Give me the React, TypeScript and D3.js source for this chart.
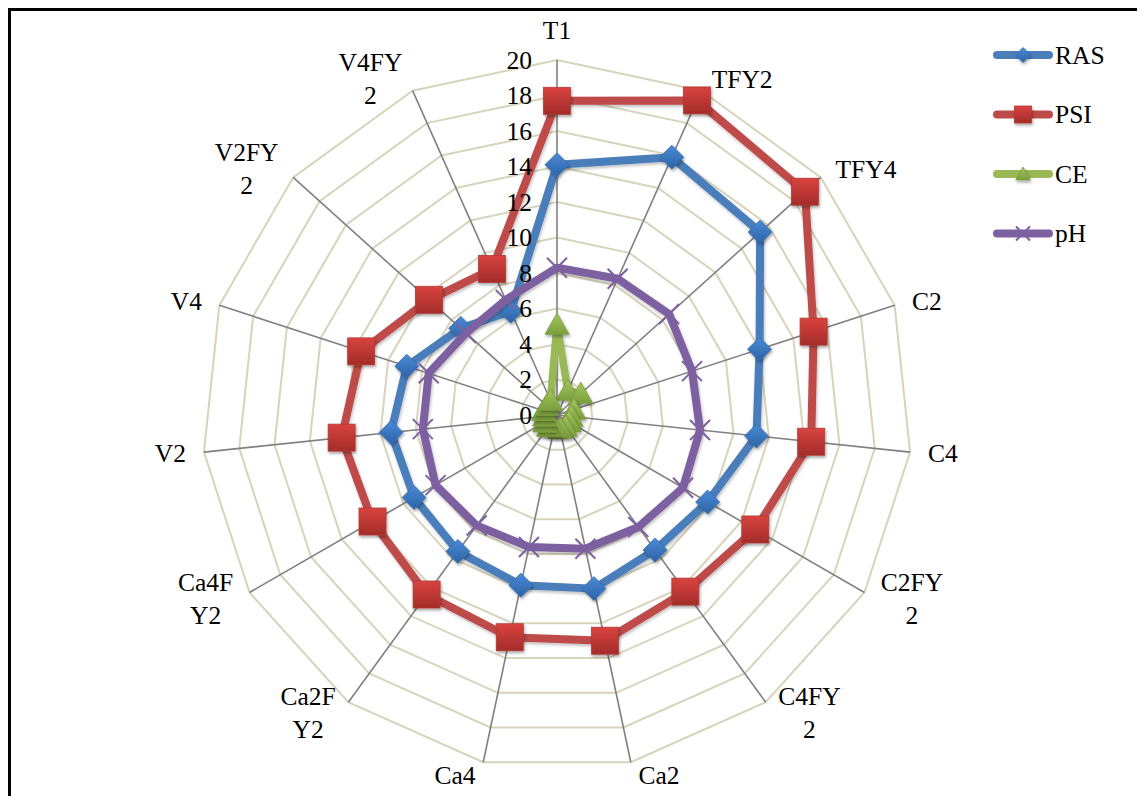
import React from "react";
import * as d3 from "d3";

const categories = ["T1", "TFY2", "TFY4", "C2", "C4", "C2FY2", "C4FY2", "Ca2", "Ca4", "Ca2FY2", "Ca4FY2", "V2", "V4", "V2FY2", "V4FY2"];
const categoryLines = [["T1"], ["TFY2"], ["TFY4"], ["C2"], ["C4"], ["C2FY", "2"], ["C4FY", "2"], ["Ca2"], ["Ca4"], ["Ca2F", "Y2"], ["Ca4F", "Y2"], ["V2"], ["V4"], ["V2FY", "2"], ["V4FY", "2"]];
const rasValues = [14.1, 15.9, 15.4, 12.0, 11.3, 9.8, 9.4, 10.0, 9.8, 9.5, 9.3, 9.4, 8.9, 7.3, 6.4];
const psiValues = [17.7, 19.4, 18.8, 15.2, 14.4, 12.9, 12.3, 13.0, 12.8, 12.5, 12.0, 12.2, 11.6, 9.7, 9.0];
const ceValues = [5.1, 1.5, 1.8, 1.0, 0.8, 0.8, 0.8, 0.8, 0.7, 0.8, 0.8, 0.7, 0.8, 0.8, 0.9];
const phValues = [8.3, 8.4, 8.5, 8.0, 8.1, 8.2, 7.8, 7.7, 7.6, 7.7, 7.9, 7.6, 7.6, 6.9, 7.1];
const tickValues = [0, 2, 4, 6, 8, 10, 12, 14, 16, 18, 20];

const seriesNames = ["RAS", "PSI", "CE", "pH"];
const seriesData = [rasValues, psiValues, ceValues, phValues];
const seriesColors = ["#4a7ebb", "#be4b48", "#98b954", "#7d60a0"];
const seriesMarkers = ["diamond", "square", "triangle", "x"];

const W = 1137;
const H = 788;
const CX = 549; // page x 557
const CY = 407; // page y 415
const R = 355;
const FONT = '"Liberation Serif", "Times New Roman", serif';
const FS = 25.5;

const rScale = d3.scaleLinear().domain([0, 20]).range([0, R]);
const aScale = d3.scaleLinear().domain([0, categories.length]).range([0, 2 * Math.PI]);

function pt(i: number, v: number): [number, number] {
  const a = aScale(i);
  const r = rScale(v);
  return [CX + r * Math.sin(a), CY - r * Math.cos(a)];
}

let ctx: CanvasRenderingContext2D | null = null;
function measure(t: string): number {
  if (!ctx) {
    const c = document.createElement("canvas");
    ctx = c.getContext("2d");
  }
  if (!ctx) return t.length * FS * 0.55;
  ctx.font = `${FS}px "Liberation Serif"`;
  return ctx.measureText(t).width;
}

function Marker({ type, x, y, color, size }: { type: string; x: number; y: number; color: string; size: number }) {
  if (type === "diamond") {
    const s = size / 2;
    return <path d={`M${x},${y - s}L${x + s},${y}L${x},${y + s}L${x - s},${y}Z`} fill="url(#gBlue)" stroke="#3a6fae" strokeWidth={0.8} filter="url(#shadow)" />;
  }
  if (type === "square") {
    const s = size / 2;
    return <rect x={x - s} y={y - s} width={size} height={size} fill="url(#gRed)" stroke="#b03a36" strokeWidth={0.8} filter="url(#shadow)" />;
  }
  if (type === "triangle") {
    const s = size / 2;
    return <path d={`M${x},${y - s}L${x + s * 1.05},${y + s * 0.85}L${x - s * 1.05},${y + s * 0.85}Z`} fill="url(#gGreen)" stroke="#7ea03f" strokeWidth={0.8} filter="url(#shadow)" />;
  }
  const s = size / 2;
  return <path d={`M${x - s},${y - s}L${x + s},${y + s}M${x + s},${y - s}L${x - s},${y + s}`} stroke={color} strokeWidth={2} fill="none" />;
}

export default function App() {
  const n = categories.length;
  const line = d3.line<[number, number]>().curve(d3.curveLinearClosed);
  const ringPath = (v: number) => line(d3.range(n).map((i) => pt(i, v)))!;

  const markerSizes = [24, 27, 23, 20];
  const strokeWidths = [8, 8, 7.5, 8];

  return (
    <svg width={W} height={H} style={{ display: "block", background: "#fff" }} fontFamily={FONT}>
      <defs>
        <linearGradient id="gRed" x1="0" y1="0" x2="0" y2="1">
          <stop offset="0" stopColor="#d9433f" />
          <stop offset="1" stopColor="#a32c29" />
        </linearGradient>
        <linearGradient id="gBlue" x1="0" y1="0" x2="0" y2="1">
          <stop offset="0" stopColor="#4a8ad6" />
          <stop offset="1" stopColor="#2c63a6" />
        </linearGradient>
        <linearGradient id="gGreen" x1="0" y1="0" x2="0" y2="1">
          <stop offset="0" stopColor="#a3c85f" />
          <stop offset="1" stopColor="#7a9e3c" />
        </linearGradient>
        <filter id="shadow" x="-50%" y="-50%" width="200%" height="200%">
          <feDropShadow dx="1" dy="2" stdDeviation="1.5" floodColor="#000" floodOpacity="0.35" />
        </filter>
        <filter id="lshadow" x="-10%" y="-10%" width="120%" height="120%">
          <feDropShadow dx="1" dy="2" stdDeviation="1.5" floodColor="#000" floodOpacity="0.25" />
        </filter>
      </defs>
      <rect x={1.5} y={1.5} width={W + 20} height={H + 20} fill="#fff" stroke="#000" strokeWidth={3} />

      {/* grid rings */}
      {tickValues.slice(1).map((v) => (
        <path key={v} d={ringPath(v)} fill="none" stroke="#d8d3bb" strokeWidth={2} />
      ))}
      {/* spokes */}
      {categories.map((c, i) => {
        const [x, y] = pt(i, 20);
        return <line key={c} x1={CX} y1={CY} x2={x} y2={y} stroke="#808080" strokeWidth={1.6} />;
      })}

      {/* series */}
      {seriesData.map((vals, s) => (
        <g key={seriesNames[s]}>
          <path d={line(vals.map((v, i) => pt(i, v)))!} fill="none" stroke={seriesColors[s]} strokeWidth={strokeWidths[s]} strokeLinejoin="round" filter="url(#lshadow)" />
          {vals.map((v, i) => {
            const [x, y] = pt(i, v);
            return <Marker key={i} type={seriesMarkers[s]} x={x} y={y} color={seriesColors[s]} size={markerSizes[s]} />;
          })}
        </g>
      ))}

      {/* tick labels */}
      {tickValues.map((v) => (
        <text key={v} x={CX - 25} y={CY - rScale(v)} dy="0.35em" textAnchor="end" fontSize={FS} fill="#000">
          {v}
        </text>
      ))}

      {/* category labels */}
      {categoryLines.map((lines, i) => {
        const a = aScale(i);
        const sin = Math.sin(a);
        const cos = Math.cos(a);
        const [ex, ey] = pt(i, 20);
        const lh = 33;
        const widths = lines.map(measure);
        const bw = Math.max(...widths);
        let cxBlock: number;
        let cyBlock: number;
        if (Math.abs(sin) < 0.01) {
          cxBlock = ex;
          cyBlock = cos > 0 ? ey - 30 : ey + 30;
        } else {
          const gap = 5 + 13 * Math.abs(sin);
          cxBlock = sin > 0 ? ex + gap + bw / 2 : ex - gap - bw / 2;
          cyBlock = ey - cos * 13;
        }
        const y0 = cyBlock - ((lines.length - 1) * lh) / 2;
        return (
          <text key={categories[i]} fontSize={FS} textAnchor="middle" fill="#000">
            {lines.map((t, k) => (
              <tspan key={k} x={cxBlock} y={y0 + k * lh} dy="0.35em">
                {t}
              </tspan>
            ))}
          </text>
        );
      })}

      {/* legend */}
      {seriesNames.map((name, s) => {
        const ly = 47 + s * 59.5;
        const x0 = 989;
        const x1 = 1041;
        const mx = (x0 + x1) / 2;
        return (
          <g key={name}>
            <line x1={x0} y1={ly} x2={x1} y2={ly} stroke={seriesColors[s]} strokeWidth={8} strokeLinecap="round" />
            <Marker type={seriesMarkers[s]} x={mx} y={ly} color={seriesColors[s]} size={s === 1 ? 17 : s === 0 ? 15 : 14} />
            <text x={1047} y={ly} dy="0.35em" fontSize={FS} fill="#000">
              {name}
            </text>
          </g>
        );
      })}
    </svg>
  );
}
